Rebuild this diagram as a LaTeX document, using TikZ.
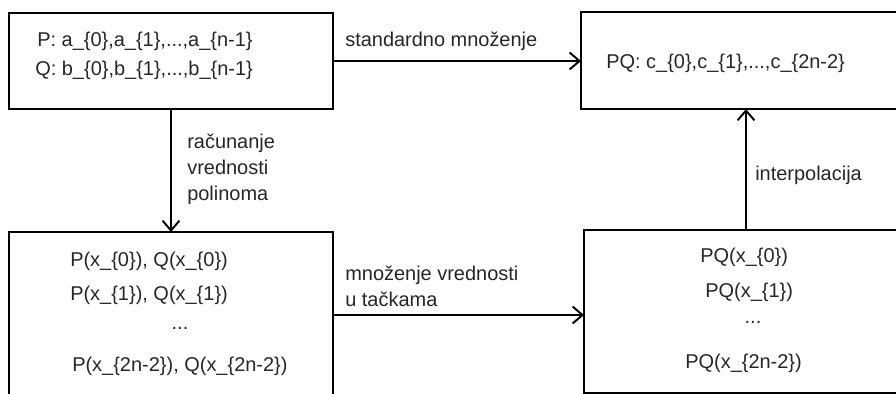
\documentclass[tikz,border=0pt]{standalone}
\usepackage{fontspec}
\setmainfont{Liberation Sans}
\usetikzlibrary{arrows.meta}

\begin{document}
\begin{tikzpicture}[
  box/.style={draw, line width=2pt, minimum width=8.1cm, inner sep=0pt, outer sep=0pt},
  txt/.style={anchor=west, inner sep=0pt, text=black!85, font=\fontsize{14.2}{18.5}\selectfont},
  arr/.style={line width=1.4pt, -{Straight Barb[length=7pt,width=12pt]}}
]
\useasboundingbox (0,0) rectangle (22.4,9.85);
\clip (0,0) rectangle (22.4,9.85);
% boxes:
\node[box, minimum height=2.4cm] (coef) at (4.275,8.325) {};
\node[box, minimum height=2.425cm, minimum width=8.25cm] (prod) at (18.65,8.3375) {};
\node[box, minimum height=4.15cm] (vals) at (4.275,1.975) {};
\node[box, minimum height=4.075cm] (pvals) at (18.65,2.0625) {};
% texts in the boxes:
\node[txt] (pa) at (0.925,8.825) {P: a\_\{0\},a\_\{1\},...,a\_\{n-1\}};
\node[txt] (qb) at (0.875,8.1) {Q: b\_\{0\},b\_\{1\},...,b\_\{n-1\}};
\node[txt] (pqc) at (15.15,8.275) {PQ: c\_\{0\},c\_\{1\},...,c\_\{2n-2\}};
\node[txt] (v0) at (1.75,3.325) {P(x\_\{0\}), Q(x\_\{0\})};
\node[txt] (v1) at (1.75,2.475) {P(x\_\{1\}), Q(x\_\{1\})};
\node[txt, anchor=center] (vdots) at (4.5,1.65) {...};
\node[txt] (vn) at (1.8,0.7) {P(x\_\{2n-2\}), Q(x\_\{2n-2\})};
\node[txt] (w0) at (17.5,3.425) {PQ(x\_\{0\})};
\node[txt] (w1) at (17.625,2.55) {PQ(x\_\{1\})};
\node[txt, anchor=center] (wdots) at (18.825,1.8) {...};
\node[txt] (wn) at (17.125,0.775) {PQ(x\_\{2n-2\})};
% arrows:
\draw[arr] (coef.east) -- (coef.east -| prod.west);
\draw[arr] (coef) -- (vals);
\draw[arr] (vals.east) -- (vals.east -| pvals.west);
\draw[arr] (pvals.north) -- (pvals.north |- prod.south);
% labels:
\node[txt] (std) at (8.625,8.825) {standardno množenje};
\node[txt, align=left] (eval) at (4.675,5.625) {računanje\\vrednosti\\polinoma};
\node[txt, align=left] (mult) at (8.625,2.7) {množenje vrednosti\\u tačkama};
\node[txt] (interp) at (18.875,5.475) {interpolacija};
\end{tikzpicture}
\end{document}
